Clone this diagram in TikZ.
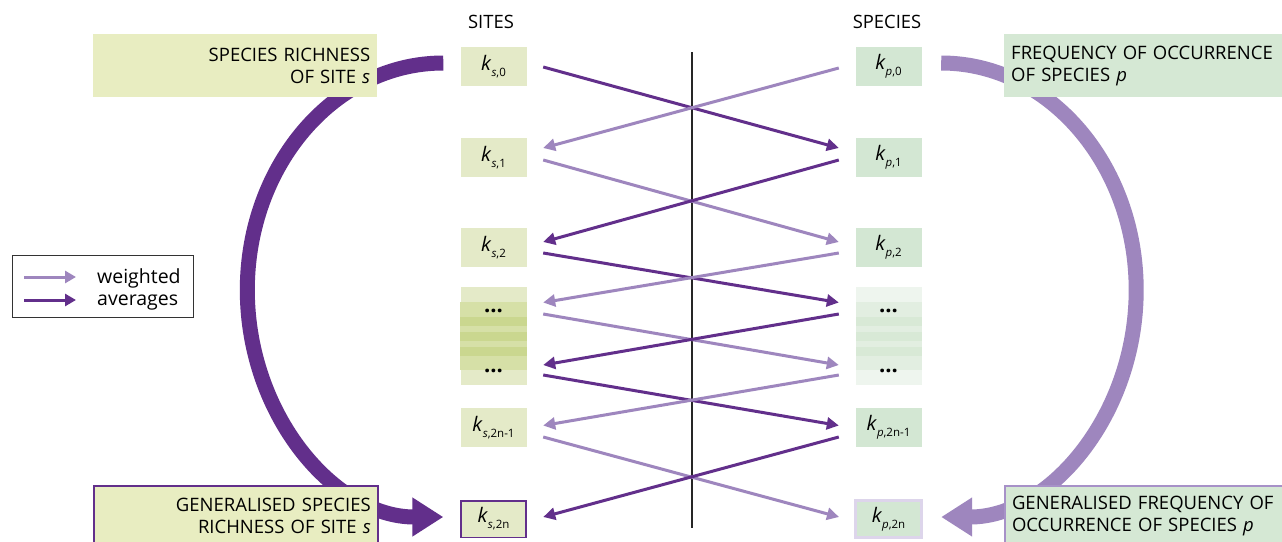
\documentclass[tikz,border=0pt]{standalone}
\usepackage{fontspec}
\setmainfont{Open Sans}
\usetikzlibrary{arrows.meta,calc}
\definecolor{darkp}{RGB}{98,47,139}
\definecolor{lightp}{RGB}{158,134,190}
\definecolor{sitefill}{RGB}{228,234,200}
\definecolor{sitelab}{RGB}{232,237,193}
\definecolor{spfill}{RGB}{211,231,211}
\definecolor{splab}{RGB}{213,232,212}
\definecolor{siteB}{RGB}{214,224,167}
\definecolor{siteC}{RGB}{202,215,143}
\definecolor{spA}{RGB}{238,245,238}
\definecolor{spB}{RGB}{226,238,225}
\definecolor{spC}{RGB}{216,233,214}
\definecolor{pborder}{RGB}{221,213,235}
\definecolor{lborder}{RGB}{167,145,200}
\newcommand\ksub[2]{\textit{k}\raisebox{-6pt}{\fontsize{11.5}{12}\selectfont\textit{#1},#2}}
\begin{document}
\begin{tikzpicture}[x=1pt,y=-1pt,
  kbox/.style={minimum width=66pt, minimum height=39pt, inner sep=0pt, font=\fontsize{20}{22}\selectfont},
  sbox/.style={kbox, fill=sitefill},
  pbox/.style={kbox, fill=spfill},
  darkarr/.style={line width=3pt, color=darkp, -{Triangle[length=12pt,width=12pt]}},
  lightarr/.style={line width=3pt, color=lightp, -{Triangle[length=12pt,width=12pt]}},
  bigarc/.style={line width=15pt, -{Triangle[length=31pt,width=37pt]}},
  labbox/.style={anchor=north west, minimum height=63pt, inner xsep=7pt, inner ysep=0pt,
     text width=270pt, font=\fontsize{18.5}{22}\selectfont},
  head/.style={font=\fontsize{18.4}{20}\selectfont, inner sep=0pt},
  dots/.style={font=\fontsize{22}{22}\selectfont\bfseries, inner sep=0pt, anchor=base}
]
\useasboundingbox (0,0) rectangle (1282,541);
\fill[white] (0,0) rectangle (1282,541);

% headers
\node[head] (sites) at (491,21.5) {SITES};
\node[head] (species) at (887,21.5) {SPECIES};

% site boxes
\node[sbox] (s0) at (493.5,66.5) {\ksub{s}{0}};
\node[sbox] (s1) at (493.5,157.5) {\ksub{s}{1}};
\node[sbox] (s2) at (493.5,247.5) {\ksub{s}{2}};
\node[kbox, minimum height=98pt, fill=sitefill] (sd) at (493.5,336) {};
\fill[siteB] (460,302) rectangle (527,317);
\fill[siteC] (460,317) rectangle (527,326);
\fill[siteB] (460,326) rectangle (527,332);
\fill[siteC] (460,332) rectangle (527,341);
\fill[siteB] (460,341) rectangle (527,347);
\fill[siteC] (460,347) rectangle (527,356);
\fill[siteB] (460,356) rectangle (527,370);
\node[dots] (sd1) at (493.5,312.5) {...};
\node[dots] (sd2) at (493.5,372.5) {...};
\node[sbox] (s5) at (493.5,427.5) {\ksub{s}{2n-1}};
\node[sbox, draw=darkp, line width=1.5pt, minimum width=65pt, minimum height=36.5pt] (s6) at (493.5,519) {\ksub{s}{2n}};

% species boxes
\node[pbox] (p0) at (888.5,66.5) {\ksub{p}{0}};
\node[pbox] (p1) at (888.5,157.5) {\ksub{p}{1}};
\node[pbox] (p2) at (888.5,247.5) {\ksub{p}{2}};
\node[kbox, minimum height=98pt, fill=spA] (pd) at (888.5,336) {};
\fill[spB] (855.5,302) rectangle (921.5,317);
\fill[spC] (855.5,317) rectangle (921.5,326);
\fill[spB] (855.5,326) rectangle (921.5,332);
\fill[spC] (855.5,332) rectangle (921.5,341);
\fill[spB] (855.5,341) rectangle (921.5,347);
\fill[spC] (855.5,347) rectangle (921.5,356);
\fill[spB] (855.5,356) rectangle (921.5,370);
\node[dots] (pd1) at (888.5,312.5) {...};
\node[dots] (pd2) at (888.5,372.5) {...};
\node[pbox] (p5) at (888.5,427.5) {\ksub{p}{2n-1}};
\node[pbox, draw=pborder, line width=3pt, minimum width=66pt, minimum height=37pt] (p6) at (888.5,519) {\ksub{p}{2n}};

% central line
\coordinate (mtop) at (692,52);
\coordinate (mbot) at (692,528);
\draw[line width=1.2pt, black!85] (mtop) -- (mbot);

% crossing arrows
\draw[darkarr]  ($(s0.east)+(16.5,0.5)$) -- ($(p1.west)+(-16.5,-9.5)$);
\draw[lightarr] ($(p0.west)+(-16.5,1.5)$) -- ($(s1.east)+(16.5,-9.5)$);
\draw[lightarr] ($(s1.east)+(16.5,2.5)$) -- ($(p2.west)+(-16.5,-5.5)$);
\draw[darkarr]  ($(p1.west)+(-16.5,2.5)$) -- ($(s2.east)+(16.5,-5.5)$);
\draw[darkarr]  ($(s2.east)+(16.5,5.5)$) -- ($(pd.west)+(-16.5,-33.5)$);
\draw[lightarr] ($(p2.west)+(-16.5,5.5)$) -- ($(sd.east)+(16.5,-33.5)$);
\draw[lightarr] ($(sd.east)+(16.5,-22)$) -- ($(pd.west)+(-16.5,29)$);
\draw[darkarr]  ($(pd.west)+(-16.5,-22)$) -- ($(sd.east)+(16.5,29)$);
\draw[darkarr]  ($(sd.east)+(16.5,39)$) -- ($(p5.west)+(-16.5,-2)$);
\draw[lightarr] ($(pd.west)+(-16.5,39)$) -- ($(s5.east)+(16.5,-2)$);
\draw[lightarr] ($(s5.east)+(16.5,9.5)$) -- ($(p6.west)+(-15,-2)$);
\draw[darkarr]  ($(p5.west)+(-16.5,9.5)$) -- ($(s6.east)+(16.5,-2)$);

% big arcs
\draw[bigarc, color=darkp] ($(s0.west)+(-17,-3.5)$) arc[start angle=90, end angle=270, x radius=196pt, y radius=227pt];
\draw[bigarc, color=lightp] ($(p0.east)+(19.5,-3.5)$) arc[start angle=90, end angle=-90, x radius=195pt, y radius=227pt];

% label boxes
\node[labbox, fill=sitelab, align=right] (lsr) at (93,34) {SPECIES RICHNESS\\OF SITE \textit{s}};
\node[labbox, fill=splab, align=left, text width=300pt] (lfo) at (1004,34) {FREQUENCY OF OCCURRENCE\\OF SPECIES \textit{p}};
\node[labbox, fill=sitelab, draw=darkp, line width=1.5pt, align=right, minimum height=59.5pt] (lgsr) at (93,485) {GENERALISED SPECIES\\RICHNESS OF SITE \textit{s}};
\node[labbox, fill=splab, draw=lborder, line width=2pt, align=left, text width=300pt, minimum height=59.5pt] (lgfo) at (1004,485) {GENERALISED FREQUENCY OF\\OCCURRENCE OF SPECIES \textit{p}};

% legend
\node[draw=black!80, line width=1pt, anchor=north west, minimum width=181pt, minimum height=62pt, inner sep=0pt] (leg) at (12,255) {};
\draw[line width=3pt, color=lightp, -{Triangle[length=11pt,width=12pt]}] ($(leg.north west)+(12,22)$) -- ++(52,0);
\draw[line width=3pt, color=darkp, -{Triangle[length=11pt,width=12pt]}] ($(leg.north west)+(12,45)$) -- ++(52,0);
\node[anchor=west, align=left, inner sep=0pt, font=\fontsize{19.5}{22}\selectfont] (legtxt) at (97,289.5) {weighted\\averages};
\end{tikzpicture}
\end{document}
